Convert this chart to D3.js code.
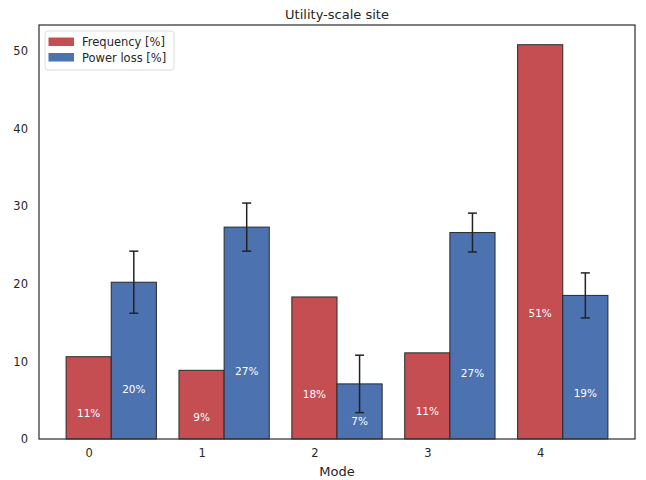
<!DOCTYPE html>
<html>
<head>
<meta charset="utf-8">
<script src="https://cdn.jsdelivr.net/npm/d3@7"></script>
<style>
  body { margin: 0; background: #fff; }
  svg { display: block; font-family: "DejaVu Sans", sans-serif; }
</style>
</head>
<body>
<svg id="chart" width="646" height="480"></svg>
<script>
// Mode categories and the two series plotted per mode
const modes = [0, 1, 2, 3, 4];
const frequency = [10.6, 8.85, 18.3, 11.1, 50.8];
const powerLoss = [20.2, 27.3, 7.1, 26.6, 18.5];
const powerLossErr = [4.0, 3.1, 3.7, 2.5, 2.9];
const freqLabels = ["11%", "9%", "18%", "11%", "51%"];
const powerLabels = ["20%", "27%", "7%", "27%", "19%"];
const yTicks = [0, 10, 20, 30, 40, 50];
const seriesNames = ["Frequency [%]", "Power loss [%]"];

const red = "#C44E52", blue = "#4C72B0", ink = "#262626";
const barW = 0.4;

const svg = d3.select("#chart");
const plot = { left: 39, right: 635, top: 25, bottom: 439 };

// x domain covers the bar extent (-0.2 .. 4.6) plus 5% margins
const x = d3.scaleLinear().domain([-0.44, 4.84]).range([plot.left, plot.right]);
const yMax = d3.max(frequency) * 1.05;
const y = d3.scaleLinear().domain([0, yMax]).range([plot.bottom, plot.top]);

const g = svg.append("g");

// Frequency bars, centred on the mode tick
g.selectAll("rect.freq").data(modes).join("rect")
  .attr("class", "freq")
  .attr("x", d => x(d - barW / 2))
  .attr("width", d => x(d + barW / 2) - x(d - barW / 2))
  .attr("y", (d, i) => y(frequency[i]))
  .attr("height", (d, i) => y(0) - y(frequency[i]))
  .attr("fill", red)
  .attr("stroke", "#2a2a2a").attr("stroke-width", 1);

// Power loss bars, placed just right of the frequency bars
g.selectAll("rect.pow").data(modes).join("rect")
  .attr("class", "pow")
  .attr("x", d => x(d + barW / 2))
  .attr("width", d => x(d + 1.5 * barW) - x(d + barW / 2))
  .attr("y", (d, i) => y(powerLoss[i]))
  .attr("height", (d, i) => y(0) - y(powerLoss[i]))
  .attr("fill", blue)
  .attr("stroke", "#2a2a2a").attr("stroke-width", 1);

// Error bars on power loss
const eb = g.selectAll("g.err").data(modes).join("g").attr("class", "err");
const ebStroke = "#222";
const cap = 4.5;
eb.append("line")
  .attr("x1", d => x(d + barW)).attr("x2", d => x(d + barW))
  .attr("y1", (d, i) => y(powerLoss[i] + powerLossErr[i]))
  .attr("y2", (d, i) => y(powerLoss[i] - powerLossErr[i]))
  .attr("stroke", ebStroke).attr("stroke-width", 1.5);
[1, -1].forEach(s => {
  eb.append("line")
    .attr("x1", d => x(d + barW) - cap).attr("x2", d => x(d + barW) + cap)
    .attr("y1", (d, i) => y(powerLoss[i] + s * powerLossErr[i]))
    .attr("y2", (d, i) => y(powerLoss[i] + s * powerLossErr[i]))
    .attr("stroke", ebStroke).attr("stroke-width", 1.5);
});

// Percentage labels inside the bars
const labelFrac = 0.32;
g.selectAll("text.fl").data(modes).join("text")
  .attr("x", d => x(d))
  .attr("y", (d, i) => y(frequency[i] * labelFrac))
  .attr("text-anchor", "middle").attr("dominant-baseline", "central")
  .attr("fill", "#fff").attr("font-size", 10.5)
  .text((d, i) => freqLabels[i]);
g.selectAll("text.pl").data(modes).join("text")
  .attr("x", d => x(d + barW))
  .attr("y", (d, i) => y(powerLoss[i] * labelFrac))
  .attr("text-anchor", "middle").attr("dominant-baseline", "central")
  .attr("fill", "#fff").attr("font-size", 10.5)
  .text((d, i) => powerLabels[i]);

// Axes (labels only, no tick marks)
const xAxis = svg.append("g").attr("transform", `translate(0,${plot.bottom})`)
  .call(d3.axisBottom(x).tickValues(modes).tickFormat(d3.format("d")).tickSize(0).tickPadding(10));
const yAxis = svg.append("g").attr("transform", `translate(${plot.left},0)`)
  .call(d3.axisLeft(y).tickValues(yTicks).tickSize(0).tickPadding(11));
[xAxis, yAxis].forEach(a => {
  a.select(".domain").remove();
  a.selectAll("text").attr("fill", ink).attr("font-size", 11.5)
    .attr("font-family", "DejaVu Sans, sans-serif");
});

// Frame around the plot area
svg.append("rect")
  .attr("x", plot.left).attr("y", plot.top)
  .attr("width", plot.right - plot.left).attr("height", plot.bottom - plot.top)
  .attr("fill", "none").attr("stroke", "#333").attr("stroke-width", 1.25);

// Title and axis label
svg.append("text").attr("x", (plot.left + plot.right) / 2).attr("y", 19)
  .attr("text-anchor", "middle").attr("fill", ink).attr("font-size", 13)
  .text("Utility-scale site");
svg.append("text").attr("x", (plot.left + plot.right) / 2).attr("y", 476)
  .attr("text-anchor", "middle").attr("fill", ink).attr("font-size", 13)
  .text("Mode");

// Legend
const lg = svg.append("g").attr("transform", "translate(45,31)");
lg.append("rect").attr("width", 129).attr("height", 39).attr("rx", 3)
  .attr("fill", "#fff").attr("fill-opacity", 0.8)
  .attr("stroke", "#ddd").attr("stroke-width", 1);
[red, blue].forEach((c, i) => {
  lg.append("rect").attr("x", 3.5).attr("y", 6.5 + i * 15.5)
    .attr("width", 25.5).attr("height", 8.5).attr("fill", c);
  lg.append("text").attr("x", 37).attr("y", 11 + i * 15.5)
    .attr("dominant-baseline", "central").attr("fill", ink).attr("font-size", 11.5)
    .text(seriesNames[i]);
});
</script>
</body>
</html>
